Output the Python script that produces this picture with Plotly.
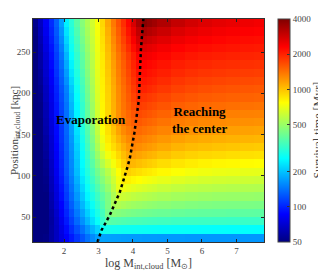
import numpy as np
import plotly.graph_objects as go

# cell edges
mass_edges = [1.1, 1.25, 1.4, 1.55, 1.7, 1.85, 2.0, 2.15, 2.3, 2.45, 2.6, 2.75, 2.9, 3.05,
              3.2, 3.35, 3.5, 3.65, 3.8, 3.95, 4.1, 4.25, 4.4, 4.55, 4.7,
              5.1, 5.5, 5.9, 6.3, 6.7, 7.1, 7.5, 7.8]
position_edges = [20, 30, 40, 50, 60, 70, 80, 90, 100, 110, 120, 130, 140, 150, 160,
                  170, 180, 190, 200, 210, 220, 230, 240, 250, 260, 270, 280, 290]

# survival time [Myr], rows from position 25 kpc (bottom) to 285 kpc (top)
survival_time_myr = [
    [40,45,51,58,66,75,85,96,109,124,141,157,172,174,173,172,171,170,169,168,168,167,167,167,166,166,165,165,165,165,165,165],
    [37,42,50,58,66,77,90,105,122,141,164,188,214,270,279,277,276,274,273,272,271,270,269,268,267,265,264,263,262,261,261,260],
    [34,40,48,57,67,80,96,114,136,161,191,225,267,324,379,373,368,363,359,355,352,349,347,345,342,338,336,334,333,332,331,330],
    [34,40,49,58,69,84,101,121,146,175,210,247,289,344,425,465,456,446,439,432,426,420,416,412,407,400,396,392,390,388,387,386],
    [33,41,49,60,72,87,106,129,156,190,230,269,312,365,440,540,549,534,521,510,501,493,485,479,470,459,452,446,443,440,438,436],
    [33,41,50,61,74,91,111,136,166,204,250,291,335,386,445,542,637,619,602,588,576,564,555,547,535,522,512,506,500,497,494,491],
    [34,42,51,63,76,94,115,142,176,219,266,312,363,421,487,582,700,727,704,685,668,654,639,628,611,593,580,572,565,560,556,553],
    [34,42,52,64,79,97,120,147,185,234,282,333,392,456,528,622,730,840,823,795,772,752,735,718,697,673,656,644,635,628,623,619],
    [35,43,53,66,81,100,124,153,195,249,298,354,420,491,570,662,769,881,948,915,886,861,841,820,793,762,740,725,714,706,699,694],
    [36,44,54,67,83,102,126,156,200,257,312,377,459,556,650,740,842,950,1070,1055,1016,988,959,935,896,861,834,816,802,792,784,776],
    [37,46,56,69,84,104,128,159,206,264,326,401,499,620,731,817,914,1020,1120,1182,1144,1108,1078,1053,1010,969,939,920,905,893,885,877],
    [38,47,57,70,86,106,130,162,211,272,340,425,538,685,811,895,986,1089,1200,1306,1264,1226,1191,1161,1118,1069,1037,1016,999,986,976,965],
    [39,48,58,71,88,108,132,166,220,282,354,444,567,721,846,951,1067,1183,1285,1380,1365,1323,1290,1258,1211,1164,1131,1108,1090,1078,1068,1059],
    [40,49,60,73,89,109,134,171,228,293,367,463,595,757,881,1006,1149,1277,1371,1440,1475,1432,1396,1363,1311,1261,1226,1201,1183,1169,1158,1149],
    [41,50,61,74,91,111,136,175,237,303,381,482,624,793,916,1062,1230,1371,1456,1542,1583,1539,1498,1465,1411,1356,1321,1295,1276,1261,1250,1240],
    [41,51,62,76,93,114,140,182,246,312,392,495,635,799,924,1072,1242,1389,1494,1605,1692,1645,1603,1565,1509,1448,1408,1380,1359,1343,1331,1322],
    [42,51,63,77,95,117,143,190,254,321,403,507,646,805,932,1081,1254,1407,1531,1668,1790,1754,1706,1668,1610,1546,1502,1472,1452,1436,1424,1412],
    [42,52,65,79,98,120,147,197,263,331,414,520,657,811,940,1091,1267,1425,1569,1732,1880,1859,1810,1771,1709,1642,1597,1566,1543,1527,1515,1502],
    [43,53,66,81,100,123,151,205,272,340,425,532,668,817,948,1101,1279,1443,1607,1795,2000,2007,1949,1901,1829,1748,1695,1659,1632,1613,1599,1585],
    [44,55,68,84,103,128,161,219,284,353,439,545,679,826,964,1126,1310,1480,1656,1858,2081,2108,2052,2003,1927,1844,1790,1753,1724,1704,1689,1675],
    [46,56,70,86,107,132,170,233,296,367,453,558,689,834,980,1150,1340,1516,1705,1920,2163,2213,2154,2105,2030,1946,1892,1853,1826,1804,1789,1775],
    [47,58,71,89,110,137,180,247,308,380,466,570,700,843,996,1175,1370,1553,1754,1983,2244,2313,2254,2205,2130,2046,1992,1953,1926,1904,1889,1875],
    [48,59,73,91,113,141,189,261,320,393,480,583,710,851,1012,1200,1400,1589,1803,2046,2325,2460,2400,2340,2260,2165,2105,2063,2033,2009,1992,1976],
    [49,60,76,94,117,148,202,272,334,410,496,597,721,867,1038,1242,1452,1667,1914,2208,2560,2662,2585,2518,2415,2306,2236,2185,2146,2118,2098,2079],
    [50,62,78,98,122,156,216,284,347,427,511,611,732,882,1065,1285,1504,1746,2026,2370,2795,2954,2857,2765,2630,2488,2395,2324,2273,2236,2210,2185],
    [51,64,81,101,126,163,229,295,361,444,527,625,743,898,1091,1327,1556,1824,2138,2530,3030,3350,3210,3090,2910,2700,2580,2490,2420,2370,2330,2300],
    [53,66,83,104,130,171,244,307,377,459,541,638,752,917,1127,1374,1618,1910,2250,2750,3370,3840,3660,3490,3250,2990,2810,2680,2590,2530,2480,2430],
]

# dotted boundary line
line_mass = [2.97, 3.09, 3.33, 3.51, 3.62, 3.84, 3.91, 4.04, 4.11, 4.17, 4.23, 4.30]
line_position = [20, 34.5, 52.7, 70.9, 80.6, 110.9, 121.8, 152, 174, 192, 253, 290]

cbar_ticks = [50, 100, 200, 500, 1000, 2000, 4000]
x_ticks = [2, 3, 4, 5, 6, 7]
y_ticks = [50, 100, 150, 200, 250]

jet = [
    [0.0, "rgb(0,0,128)"],
    [0.125, "rgb(0,0,255)"],
    [0.375, "rgb(0,255,255)"],
    [0.625, "rgb(255,255,0)"],
    [0.875, "rgb(255,0,0)"],
    [1.0, "rgb(128,0,0)"],
]

FONT = "Liberation Serif"

z = np.log10(np.array(survival_time_myr, dtype=float))

fig = go.Figure()
fig.add_trace(go.Heatmap(
    x=mass_edges, y=position_edges, z=z,
    zmin=np.log10(cbar_ticks[0]), zmax=np.log10(cbar_ticks[-1]),
    colorscale=jet, zsmooth=False,
    colorbar=dict(
        x=(270 - 25) / 231, xanchor="left", xpad=0,
        y=0.5, yanchor="middle", len=1, lenmode="fraction", ypad=0,
        thickness=12, outlinewidth=1, outlinecolor="#444",
        tickvals=list(np.log10(cbar_ticks)), ticktext=[str(t) for t in cbar_ticks],
        ticks="inside", ticklen=3, tickcolor="#333",
        tickfont=dict(family=FONT, size=9, color="#444"),
    ),
    showscale=True,
))
fig.add_trace(go.Scatter(
    x=line_mass, y=line_position, mode="lines",
    line=dict(color="black", width=2.5, dash="dot"),
    showlegend=False, hoverinfo="skip",
))

fig.add_annotation(x=2.78, y=168, text="<b>Evaporation</b>", showarrow=False,
                   font=dict(family=FONT, size=13, color="black"))
fig.add_annotation(x=5.92, y=168, text="<b>Reaching<br>the center</b>", showarrow=False,
                   font=dict(family=FONT, size=13, color="black"))
# colorbar label
fig.add_annotation(xref="paper", yref="paper", x=(309 - 25) / 231, y=0.5,
                   xanchor="center", yanchor="middle", textangle=-90,
                   text="Survival time [Myr]", showarrow=False,
                   font=dict(family=FONT, size=12, color="#444"))

axis_common = dict(
    ticks="inside", ticklen=3, tickcolor="#222", mirror="ticks", automargin=False,
    showline=True, linecolor="#333", linewidth=1, showgrid=False, zeroline=False,
    tickfont=dict(family=FONT, size=9, color="#444"),
)
fig.update_xaxes(range=[1.1, 7.8], tickvals=x_ticks,
                 title=dict(text="log M<sub>int,cloud</sub> [M<sub>⊙</sub>]", standoff=1,
                            font=dict(family=FONT, size=12, color="#444")),
                 **axis_common)
fig.update_yaxes(range=[20, 290], tickvals=y_ticks, ticklabelstandoff=0,
                 title=dict(text="Position<sub>int,cloud</sub> [kpc]", standoff=2,
                            font=dict(family=FONT, size=11, color="#444")),
                 **axis_common)

# the page body adds an 8 px offset, so the figure is sized to fit the window
fig.update_layout(
    width=318, height=271,
    margin=dict(l=25, r=62, t=11, b=37, autoexpand=False),
    paper_bgcolor="white", plot_bgcolor="white",
    font=dict(family=FONT, size=9, color="#444"),
    showlegend=False,
)

fig.write_html("out.html")
